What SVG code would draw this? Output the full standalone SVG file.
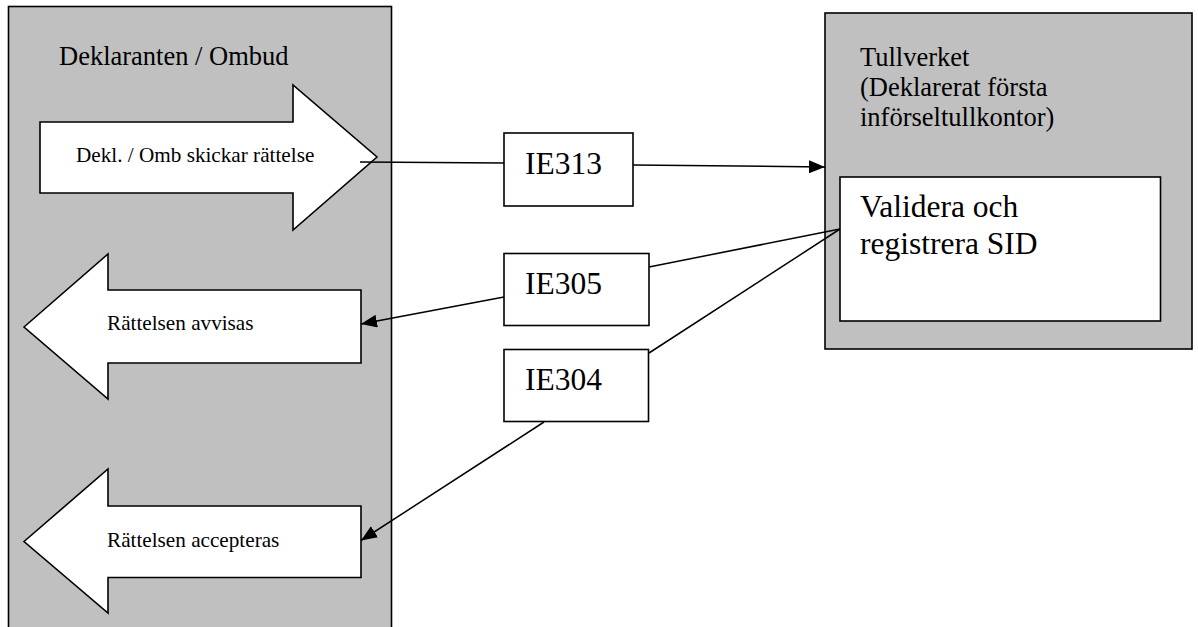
<svg xmlns="http://www.w3.org/2000/svg" width="1198" height="627" viewBox="0 0 1198 627">
<style>
.panel{fill:#c0c0c0;stroke:#000;stroke-width:1.6}
.white{fill:#fff;stroke:#000;stroke-width:1.6}
.t{font-family:"Liberation Serif","Times New Roman",serif;fill:#000}
.h{font-size:26.5px}
.s{font-size:21.2px}
.b{font-size:31.5px}
.c{fill:none;stroke:#000;stroke-width:1.5}
</style>
<defs>
<marker id="ah" markerUnits="userSpaceOnUse" markerWidth="18" markerHeight="14" refX="16" refY="6.5" orient="auto">
<path d="M0,0 L16,6.5 L0,13 Z" fill="#000"/>
</marker>
</defs>
<rect width="1198" height="627" fill="#fff"/>
<g id="deklaranten">
<rect class="panel" x="8.5" y="6.5" width="383" height="640"/>
<text class="t h" x="59" y="65">Deklaranten / Ombud</text>
</g>
<g id="arrow-skickar">
<polygon class="white" points="40,122 293,122 293,85 377,157 293,230 293,193 40,193"/>
<text class="t s" x="76" y="162">Dekl. / Omb skickar rättelse</text>
</g>
<g id="arrow-avvisas">
<polygon class="white" points="24,327 108,254 108,290 361,290 361,363 108,363 108,399"/>
<text class="t s" x="107" y="330">Rättelsen avvisas</text>
</g>
<g id="arrow-accepteras">
<polygon class="white" points="24,541.5 108,469 108,506 361,506 361,577.5 108,577.5 108,613"/>
<text class="t s" x="107" y="546.5">Rättelsen accepteras</text>
</g>
<g id="tullverket">
<rect class="panel" x="825" y="13" width="367" height="336"/>
<text class="t h" x="860" y="66">Tullverket</text>
<text class="t h" x="860" y="96">(Deklarerat första</text>
<text class="t h" x="860" y="126">införseltullkontor)</text>
</g>
<g id="validera">
<rect class="white" x="840" y="177" width="320.5" height="144"/>
<text class="t b" x="860" y="217">Validera och</text>
<text class="t b" x="860" y="253.5">registrera SID</text>
</g>
<g id="ie313">
<rect class="white" x="504" y="133" width="129" height="73"/>
<text class="t b" x="525" y="173.5">IE313</text>
</g>
<g id="ie305">
<rect class="white" x="504" y="253.5" width="145" height="72"/>
<text class="t b" x="525" y="293.5">IE305</text>
</g>
<g id="ie304">
<rect class="white" x="504" y="349.5" width="144.5" height="72"/>
<text class="t b" x="525" y="389.5">IE304</text>
</g>
<g id="connectors">
<line class="c" x1="360" y1="162" x2="504" y2="163"/>
<line class="c" x1="633" y1="165" x2="825" y2="167" marker-end="url(#ah)"/>
<line class="c" x1="840" y1="229" x2="649" y2="267"/>
<line class="c" x1="504" y1="297" x2="361" y2="324" marker-end="url(#ah)"/>
<line class="c" x1="840" y1="229" x2="649" y2="353"/>
<line class="c" x1="544" y1="422" x2="361" y2="540.5" marker-end="url(#ah)"/>
</g>
</svg>
